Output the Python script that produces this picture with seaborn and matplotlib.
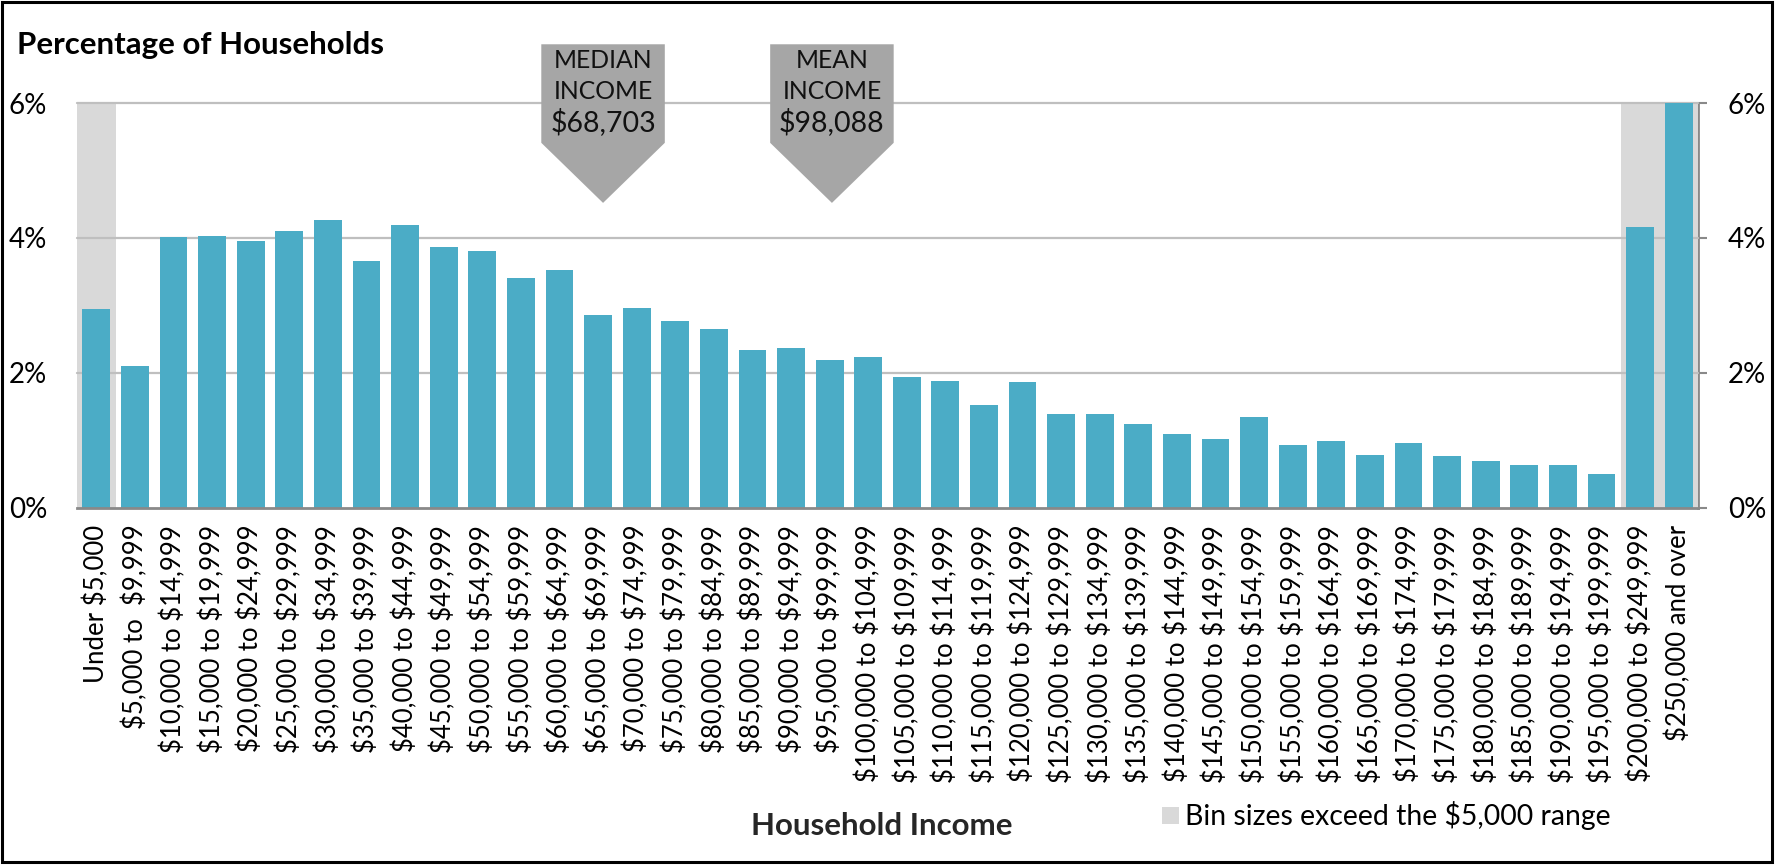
import matplotlib
matplotlib.use("Agg")
import matplotlib.pyplot as plt
import seaborn as sns
import pandas as pd
from matplotlib.patches import Polygon, Patch, Rectangle
from matplotlib.ticker import FuncFormatter

# ---------------- data ----------------
categories = [
    "Under $5,000", "$5,000 to  $9,999", "$10,000 to $14,999", "$15,000 to $19,999",
    "$20,000 to $24,999", "$25,000 to $29,999", "$30,000 to $34,999", "$35,000 to $39,999",
    "$40,000 to $44,999", "$45,000 to $49,999", "$50,000 to $54,999", "$55,000 to $59,999",
    "$60,000 to $64,999", "$65,000 to $69,999", "$70,000 to $74,999", "$75,000 to $79,999",
    "$80,000 to $84,999", "$85,000 to $89,999", "$90,000 to $94,999", "$95,000 to $99,999",
    "$100,000 to $104,999", "$105,000 to $109,999", "$110,000 to $114,999", "$115,000 to $119,999",
    "$120,000 to $124,999", "$125,000 to $129,999", "$130,000 to $134,999", "$135,000 to $139,999",
    "$140,000 to $144,999", "$145,000 to $149,999", "$150,000 to $154,999", "$155,000 to $159,999",
    "$160,000 to $164,999", "$165,000 to $169,999", "$170,000 to $174,999", "$175,000 to $179,999",
    "$180,000 to $184,999", "$185,000 to $189,999", "$190,000 to $194,999", "$195,000 to $199,999",
    "$200,000 to $249,999", "$250,000 and over",
]
pct_households = [
    2.95, 2.10, 4.01, 4.03, 3.95, 4.10, 4.26, 3.66, 4.19, 3.87,
    3.81, 3.41, 3.53, 2.86, 2.97, 2.77, 2.65, 2.34, 2.37, 2.19,
    2.23, 1.94, 1.88, 1.52, 1.86, 1.39, 1.39, 1.24, 1.10, 1.02,
    1.35, 0.94, 0.99, 0.79, 0.97, 0.77, 0.70, 0.64, 0.64, 0.51,
    4.16, 6.00,
]
wide_bins = ["Under $5,000", "$200,000 to $249,999", "$250,000 and over"]
y_ticks = [0, 2, 4, 6]
median_lines = ["MEDIAN", "INCOME", "$68,703"]
mean_lines = ["MEAN", "INCOME", "$98,088"]
median_pos = 13.13   # position on category axis (inside $65,000 to $69,999 bin)
mean_pos = 19.06     # position on category axis (inside $95,000 to $99,999 bin)
legend_label = "Bin sizes exceed the $5,000 range"

# ---------------- style ----------------
sns.set_theme(style="white")
plt.rcParams["font.family"] = ["Lato", "DejaVu Sans"]
plt.rcParams["text.parse_math"] = False
plt.rcParams["text.color"] = "black"
plt.rcParams["xtick.color"] = "black"
plt.rcParams["ytick.color"] = "black"

BAR = "#4BACC6"
BAND = "#D9D9D9"
GRID = "#BFBFBF"
AXIS = "#898989"
ARROW = "#A6A6A6"

W, H = 1778, 866
fig = plt.figure(figsize=(W / 100, H / 100), dpi=100)
L, R, T, B = 77, 1698, 103, 508
ax = fig.add_axes([L / W, 1 - B / H, (R - L) / W, (B - T) / H])

ymax = max(y_ticks)
df = pd.DataFrame({"bin": categories, "pct": pct_households})
df["band"] = [ymax if c in wide_bins else 0 for c in categories]

sns.barplot(data=df, x="bin", y="band", order=categories, color=BAND,
            width=1.0, saturation=1, linewidth=0, ax=ax, zorder=0.5)
sns.barplot(data=df, x="bin", y="pct", order=categories, color=BAR,
            width=0.72, saturation=1, linewidth=0, ax=ax, zorder=2)

ax.set_xlim(-0.5, len(categories) - 0.5)
ax.set_ylim(0, ymax)

for t in y_ticks[1:]:
    ax.axhline(t, color=GRID, lw=1.6, zorder=1, clip_on=False)

for s in ["top", "left", "right"]:
    ax.spines[s].set_visible(False)
ax.spines["bottom"].set_color(AXIS)
ax.spines["bottom"].set_linewidth(2)
ax.spines["bottom"].set_zorder(3)

pct_fmt = FuncFormatter(lambda v, p: f"{v:.0f}%")
ax.set_yticks(y_ticks)
ax.yaxis.set_major_formatter(pct_fmt)
ax.tick_params(axis="y", length=0, pad=21.6, labelsize=20)

sec = ax.secondary_yaxis("right")
sec.set_yticks(y_ticks)
sec.yaxis.set_major_formatter(pct_fmt)
sec.tick_params(axis="y", length=6.5, width=1.5, color=AXIS, direction="out",
                pad=15, labelsize=20)
sec.spines["right"].set_color(AXIS)
sec.spines["right"].set_linewidth(2)

ax.tick_params(axis="x", length=0, pad=12, labelsize=18.5, rotation=90)
ax.set_ylabel("")
ax.set_xlabel("Household Income", fontsize=22.5, fontweight="bold")
ax.xaxis.set_label_coords((882 - L) / (R - L), (B - 826) / (B - T))
ax.xaxis.label.set_va("center")

fig.text(17 / W, 1 - 45 / H, "Percentage of Households", fontsize=22.5,
         fontweight="bold", ha="left", va="center")

def income_arrow(xc, lines):
    hw = 1.6
    poly = Polygon([(xc - hw, 6.87), (xc + hw, 6.87), (xc + hw, 5.41),
                    (xc, 4.52), (xc - hw, 5.41)], closed=True,
                   facecolor=ARROW, edgecolor="none", clip_on=False, zorder=4)
    ax.add_patch(poly)
    for txt, yv, fs in zip(lines, [6.63, 6.17, 5.72], [17.8, 17.8, 20.5]):
        ax.text(xc, yv, txt, ha="center", va="center", fontsize=fs,
                color="#111111", zorder=5, clip_on=False)

income_arrow(median_pos, median_lines)
income_arrow(mean_pos, mean_lines)

handles = [Patch(facecolor=BAND, edgecolor="none", label=legend_label)]
fig.legend(handles=handles, loc="center left", bbox_to_anchor=(1162 / W, 1 - 816 / H),
           frameon=False, fontsize=20.4, handlelength=0.59, handleheight=0.59,
           handletextpad=0.22, borderpad=0, borderaxespad=0)

fig.add_artist(Rectangle((2 / W, 4 / H), 1770 / W, 860 / H, transform=fig.transFigure,
                         fill=False, edgecolor="black", lw=2.2))

fig.savefig("out.png", dpi=100)
